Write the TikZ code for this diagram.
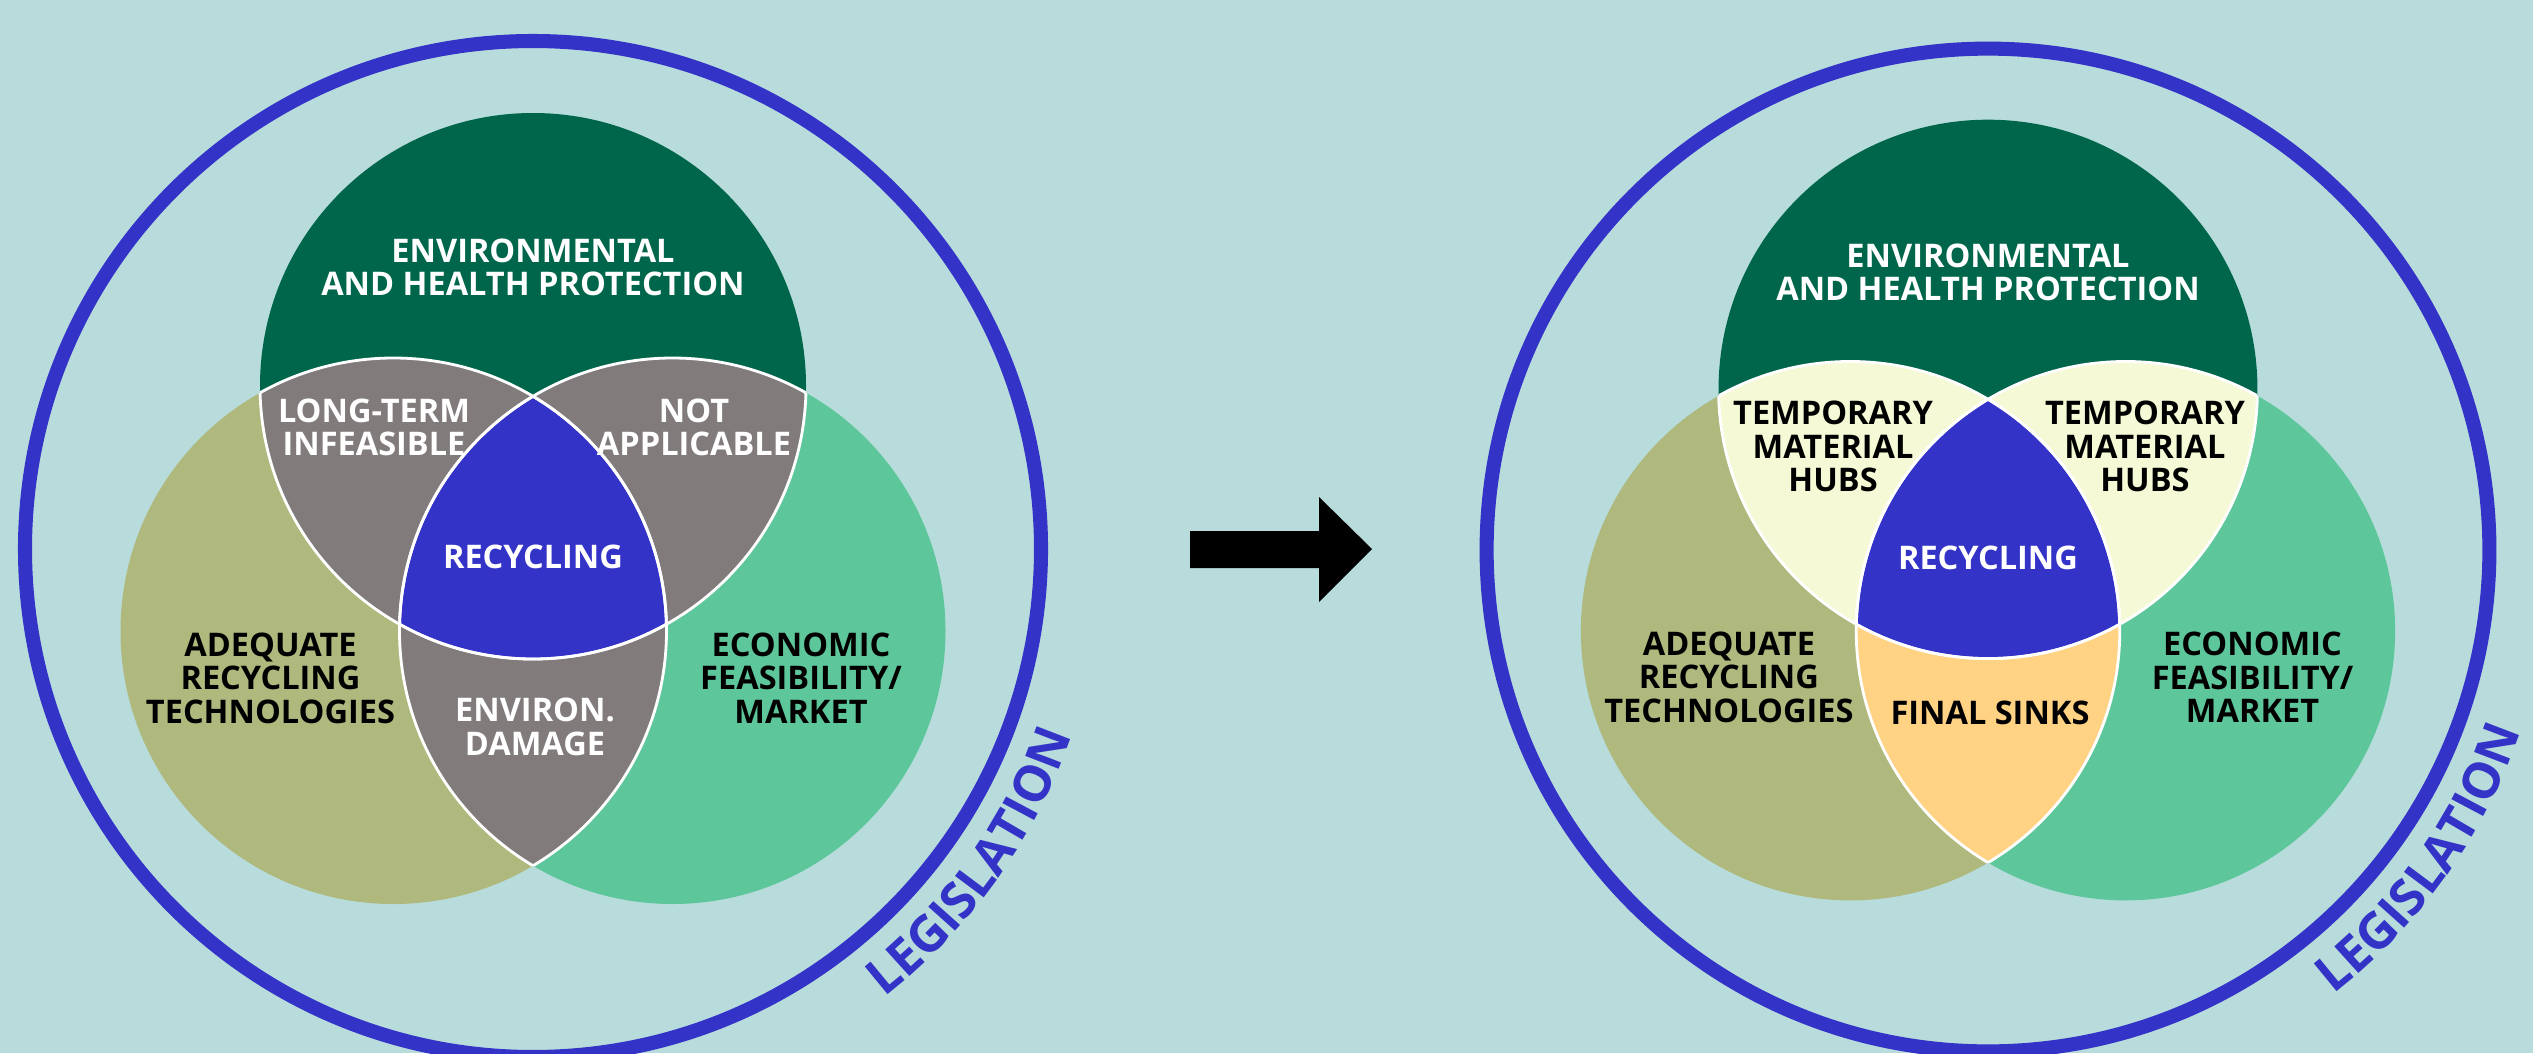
\documentclass[tikz,border=0pt]{standalone}
\usepackage{fontspec}
\setmainfont{Open Sans}
\usetikzlibrary{decorations.text}

\definecolor{bgc}{HTML}{B8DCDC}
\definecolor{envgreen}{HTML}{00664B}
\definecolor{techolive}{HTML}{AFB87D}
\definecolor{marketgreen}{HTML}{5DC79B}
\definecolor{lensgray}{HTML}{817C7B}
\definecolor{recblue}{HTML}{3333C8}
\definecolor{hubyellow}{HTML}{F5F9D6}
\definecolor{sinkorange}{HTML}{FFD284}

\newcommand\lblfont{\fontsize{9.25pt}{9.53pt}\selectfont\bfseries}
\newcommand\legisfont{\fontsize{14.3pt}{15pt}\selectfont\bfseries}

\tikzset{
  lbl/.style={font=\lblfont, align=center, inner sep=0pt},
  darklbl/.style={lbl, text=white},
  lightlbl/.style={lbl, text=black},
  seam/.style={draw=white, line width=0.8pt},
  legisring/.style={draw=recblue, line width=4pt},
}

% One Venn diagram centred at the origin of the current scope.
% #1 name prefix, #2 upper-left lens, #3 upper-right lens, #4 lower lens
\newcommand\drawvenn[4]{%
  \coordinate (#1-t) at (0,163);
  \coordinate (#1-l) at (-139.5,-82);
  \coordinate (#1-r) at (139.5,-82);
  \fill[techolive] (#1-l) circle[radius=273];
  \fill[marketgreen] (#1-r) circle[radius=273];
  \fill[envgreen] (#1-t) circle[radius=273];
  \begin{scope}\clip (#1-t) circle[radius=273]; \fill[#2] (#1-l) circle[radius=273];\end{scope}
  \begin{scope}\clip (#1-t) circle[radius=273]; \fill[#3] (#1-r) circle[radius=273];\end{scope}
  \begin{scope}\clip (#1-l) circle[radius=273]; \fill[#4] (#1-r) circle[radius=273];\end{scope}
  \begin{scope}\clip (#1-t) circle[radius=273]; \clip (#1-l) circle[radius=273];
    \fill[recblue] (#1-r) circle[radius=273];\end{scope}
  % white seams between the overlapping regions
  \begin{scope}\clip (#1-t) circle[radius=273];
    \draw[seam] (#1-l) circle[radius=273] (#1-r) circle[radius=273];\end{scope}
  \begin{scope}\clip (#1-l) circle[radius=273];
    \draw[seam] (#1-t) circle[radius=273] (#1-r) circle[radius=273];\end{scope}
  \begin{scope}\clip (#1-r) circle[radius=273];
    \draw[seam] (#1-t) circle[radius=273] (#1-l) circle[radius=273];\end{scope}
  % legislation ring and its curved label
  \draw[legisring] (0,0) circle[radius=508];
  \path[decorate, decoration={text along path, text align=center,
      text color=recblue, text={|\legisfont|LEGISLATION}}]
    (-60:570) arc[start angle=-60, end angle=-11, radius=570];
  \node[darklbl] (#1-env) at (0,281.5) {ENVIRONMENTAL\\AND HEALTH PROTECTION};
  \node[lightlbl] (#1-tech) at (-262.5,-129) {ADEQUATE\\RECYCLING\\TECHNOLOGIES};
  \node[lightlbl] (#1-mkt) at (268,-129) {ECONOMIC\\FEASIBILITY/\\MARKET};
  \node[darklbl] (#1-rec) at (0,-7.5) {RECYCLING};
}

\begin{document}
\begin{tikzpicture}[x=0.01cm, y=0.01cm]
  \fill[bgc] (0,0) rectangle (2533,1053);
  \useasboundingbox (0,0) rectangle (2533,1053);

  % current situation
  \begin{scope}[shift={(533,504)}]
    \drawvenn{cur}{lensgray}{lensgray}{lensgray}
    \node[darklbl] (cur-lt) at (-159,121.5) {LONG-TERM\\INFEASIBLE};
    \node[darklbl] (cur-na) at (161,121.5) {NOT\\APPLICABLE};
    \node[darklbl] (cur-dm) at (2,-178) {ENVIRON.\\DAMAGE};
  \end{scope}

  % transition arrow
  \fill[black] (1190,522) -- (1319,522) -- (1319,556) -- (1372,504)
    -- (1319,451) -- (1319,485) -- (1190,485) -- cycle;

  % proposed situation
  \begin{scope}[shift={(1988,503)}, scale=0.987]
    \drawvenn{new}{hubyellow}{hubyellow}{sinkorange}
    \node[lightlbl] (new-h1) at (-157,105) {TEMPORARY\\MATERIAL\\HUBS};
    \node[lightlbl] (new-h2) at (159,105) {TEMPORARY\\MATERIAL\\HUBS};
    \node[lightlbl] (new-fs) at (2,-165) {FINAL SINKS};
  \end{scope}
\end{tikzpicture}
\end{document}
